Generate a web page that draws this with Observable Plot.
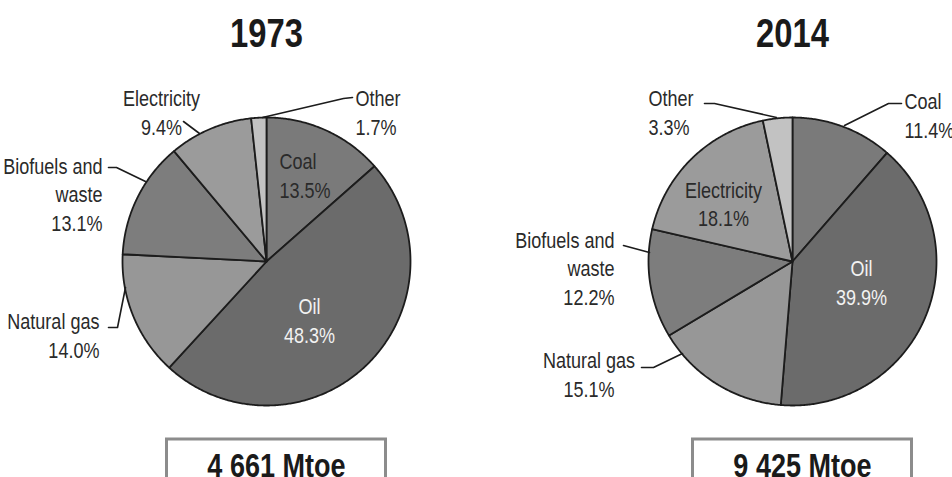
<!DOCTYPE html>
<html><head><meta charset="utf-8">
<script src="https://cdn.jsdelivr.net/npm/d3@7"></script>
<script src="https://cdn.jsdelivr.net/npm/@observablehq/plot@0.6"></script>
<style>
body{margin:0;background:#fff;}
</style></head><body><div id="chart"></div>
<script>
// ---- data ----
const years = ["1973", "2014"];
const categories = ["Coal", "Oil", "Natural gas", "Biofuels and waste", "Electricity", "Other"];
const shares1973 = [13.5, 48.3, 14.0, 13.1, 9.4, 1.7];
const shares2014 = [11.4, 39.9, 15.1, 12.2, 18.1, 3.3];
const totals = ["4 661 Mtoe", "9 425 Mtoe"];
const labelNames = ["Coal", "Oil", "Natural gas", "Biofuels and\nwaste", "Electricity", "Other"];

// ---- style / layout ----
const colors = ["#7a7a7a", "#6b6b6b", "#979797", "#7d7d7d", "#9b9b9b", "#c2c2c2"];
const FONT = "'Liberation Sans',Arial,Helvetica,sans-serif";
const NARROW = 0.82;         // horizontal condensing of text (Arial Narrow look)
const R = 144;               // pie radius in px
const W = 300, GAP = 226;    // facet band width and gap
const CY = 261;              // pie centre from top
const H = 477;
const labelLayout = {
  "1973": {
    "Coal": [13, 87, "start", "dark"],
    "Oil": [43, -58, "middle", "light"],
    "Natural gas": [-167, -73, "end", "dark"],
    "Biofuels and waste": [-164, 68.5, "end", "dark"],
    "Electricity": [-105, 150, "middle", "dark"],
    "Other": [89, 150, "start", "dark"]
  },
  "2014": {
    "Coal": [112, 147, "start", "dark"],
    "Oil": [69, -20, "middle", "light"],
    "Natural gas": [-203.5, -112, "middle", "dark"],
    "Biofuels and waste": [-178, -5.5, "end", "dark"],
    "Electricity": [-69, 58.5, "middle", "dark"],
    "Other": [-144, 150, "start", "dark"]
  }
};
const leaderLayout = {
  "1973": {
    "Electricity": [[-83, 140], [-67, 128]],
    "Other": [[86, 164], [77, 163], [-4, 144]],
    "Biofuels and waste": [[-158, 94], [-150, 94], [-121, 80]],
    "Natural gas": [[-158, -66], [-149, -66], [-141, -26]]
  },
  "2014": {
    "Other": [[-88, 158], [-78, 158], [-16, 144]],
    "Coal": [[109, 158], [96, 158], [52, 136]],
    "Biofuels and waste": [[-169, 16], [-143, 9]],
    "Natural gas": [[-151, -106], [-139, -106], [-110, -92]]
  }
};
const BOX_DX = 10, BOX_HALF = 109.5, BOX_TOP = 439;

// ---- derived tables ----
const sharesFor = y => (y === "1973" ? shares1973 : shares2014);
const slicePts = [];
const labels = [];
years.forEach(year => {
  const s = sharesFor(year);
  let cum = 0;
  s.forEach((v, i) => {
    const cat = categories[i];
    const a0 = cum / 100 * 2 * Math.PI, a1 = (cum + v) / 100 * 2 * Math.PI;
    cum += v;
    const key = year + "|" + cat;
    slicePts.push({year, cat, key, x: 0, y: 0});
    const n = Math.max(2, Math.ceil((a1 - a0) / (Math.PI / 360)));
    for (let k = 0; k <= n; k++) {
      const a = a0 + (a1 - a0) * k / n;
      slicePts.push({year, cat, key, x: Math.sin(a), y: Math.cos(a)});
    }
    slicePts.push({year, cat, key, x: 0, y: 0});
    const L = labelLayout[year][cat];
    labels.push({year, cat, x: L[0] / R, y: L[1] / R, anchor: L[2], tone: L[3],
                 text: labelNames[i] + "\n" + v.toFixed(1) + "%"});
  });
});
const leaderPts = [];
years.forEach(year => {
  Object.entries(leaderLayout[year]).forEach(([cat, pts]) => {
    pts.forEach(([dx, up]) => leaderPts.push({year, key: year + "|" + cat, x: dx / R, y: up / R}));
  });
});
const yearRows = years.map((year, i) => ({year, total: totals[i]}));

const textMarks = [];
for (const anchor of ["start", "middle", "end"]) {
  for (const tone of ["dark", "light"]) {
    const rows = labels.filter(d => d.anchor === anchor && d.tone === tone);
    if (!rows.length) continue;
    textMarks.push(Plot.text(rows, {
      fx: "year", x: "x", y: "y", text: "text", textAnchor: anchor,
      lineAnchor: "middle", lineHeight: 1.3, fontSize: 22,
      fill: tone === "dark" ? "#2a2a2a" : "#f2f2f2"
    }));
  }
}

const chart = Plot.plot({
  width: 952, height: H,
  marginLeft: 266 - W / 2, marginRight: 952 - (266 - W / 2 + W + GAP + W),
  marginTop: 0, marginBottom: 0,
  fx: {domain: years, paddingInner: GAP / (W + GAP), paddingOuter: 0, axis: null},
  x: {domain: [-W / 2 / R, W / 2 / R], axis: null},
  y: {domain: [-(H - CY) / R, CY / R], axis: null},
  color: {domain: categories, range: colors},
  style: {fontFamily: FONT, background: "white", overflow: "visible"},
  marks: [
    Plot.line(slicePts, {fx: "year", x: "x", y: "y", z: "key", fill: "cat",
      stroke: "#1c1c1c", strokeWidth: 1.8, strokeLinejoin: "round", curve: "linear"}),
    Plot.line(leaderPts, {fx: "year", x: "x", y: "y", z: "key", stroke: "#1c1c1c", strokeWidth: 1.6}),
    ...textMarks,
    Plot.text(yearRows, {fx: "year", text: "year", frameAnchor: "top", lineAnchor: "top", dy: 18,
      fontSize: 40, fontWeight: "bold", fill: "#1a1a1a"}),
    Plot.rect(yearRows, {fx: "year", x1: (BOX_DX - BOX_HALF) / R, x2: (BOX_DX + BOX_HALF) / R,
      y1: -(H - CY + 20) / R, y2: -(BOX_TOP - CY) / R, fill: "white", stroke: "#8c8c8c", strokeWidth: 3}),
    Plot.text(yearRows, {fx: "year", text: "total", x: BOX_DX / R, frameAnchor: "bottom", lineAnchor: "bottom", dy: -1,
      fontSize: 33, fontWeight: "bold", fill: "#1a1a1a"})
  ]
});
// condense all text horizontally around its anchor point
d3.select(chart).selectAll("text").each(function () {
  const t = this.getAttribute("transform") || "";
  this.setAttribute("transform", (t + " scale(" + NARROW + ",1)").trim());
});
document.getElementById("chart").appendChild(chart);
</script></body></html>
